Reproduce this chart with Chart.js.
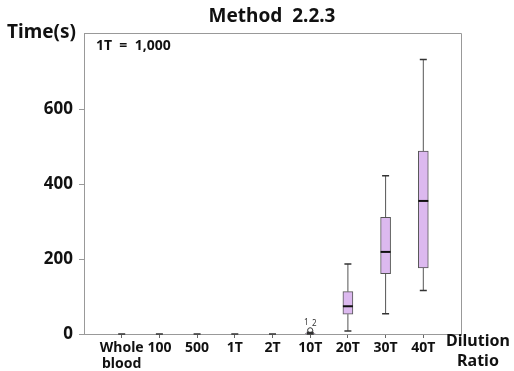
<!DOCTYPE html>
<html>
<head>
<meta charset="utf-8">
<script src="https://cdn.jsdelivr.net/npm/chart.js@4"></script>
<style>
  html, body { margin: 0; padding: 0; background: #fff; }
  #wrap { width: 514px; height: 371px; }
</style>
</head>
<body>
<div id="wrap"><canvas id="boxChart" width="514" height="371"></canvas></div>
<script>
// dilution ratios (x positions 1..9)
const labels = [['Whole', 'blood'], '100', '500', '1T', '2T', '10T', '20T', '30T', '40T'];
// box plot values (seconds)
const whiskerLow  = [0, 0, 0, 0, 0, 0, 8, 54, 116];
const q1          = [0, 0, 0, 0, 0, 0, 53, 161, 176];
const median      = [0, 0, 0, 0, 0, 1, 74, 219, 355];
const q3          = [0, 0, 0, 0, 0, 2, 113, 311, 488];
const whiskerHigh = [0, 0, 0, 0, 0, 4, 187, 422, 732];
// outliers at 10T
const outlierPos = [6, 6];
const outlierVal = [9, 10];
const outlierIds = ['1', '2'];
const yTicks = [0, 200, 400, 600];

const FONT = '"Noto Sans", "Open Sans", sans-serif';

const boxData = labels.map((l, i) => ({x: i + 1, y: [q1[i], q3[i]]}));
const outlierData = outlierPos.map((p, i) => ({x: p, y: outlierVal[i]}));

const boxPlugin = {
  id: 'boxExtras',
  afterDatasetsDraw(chart) {
    const ctx = chart.ctx;
    const xs = chart.scales.x, ys = chart.scales.y;
    ctx.save();
    labels.forEach((l, i) => {
      const cx = xs.getPixelForValue(i + 1);
      const yLo = ys.getPixelForValue(whiskerLow[i]);
      const yHi = ys.getPixelForValue(whiskerHigh[i]);
      const yQ1 = ys.getPixelForValue(q1[i]);
      const yQ3 = ys.getPixelForValue(q3[i]);
      ctx.strokeStyle = '#555';
      ctx.lineWidth = 1;
      ctx.beginPath();
      ctx.moveTo(cx, yQ3); ctx.lineTo(cx, yHi);
      ctx.moveTo(cx, yQ1); ctx.lineTo(cx, yLo);
      ctx.stroke();
      ctx.strokeStyle = '#333';
      ctx.lineWidth = 1.5;
      ctx.beginPath();
      ctx.moveTo(cx - 3.5, yHi); ctx.lineTo(cx + 3.5, yHi);
      ctx.moveTo(cx - 3.5, yLo); ctx.lineTo(cx + 3.5, yLo);
      ctx.stroke();
      if (q3[i] - q1[i] > 5) {
        const ym = ys.getPixelForValue(median[i]);
        ctx.strokeStyle = '#111';
        ctx.lineWidth = 2;
        ctx.beginPath();
        ctx.moveTo(cx - 5, ym); ctx.lineTo(cx + 5, ym);
        ctx.stroke();
      }
    });
    // outlier ids
    ctx.fillStyle = '#333';
    ctx.font = '8px ' + FONT;
    ctx.textAlign = 'center';
    ctx.textBaseline = 'alphabetic';
    outlierPos.forEach((p, i) => {
      const px = xs.getPixelForValue(p) + (i == 0 ? -4 : 4);
      const py = ys.getPixelForValue(outlierVal[i]) - 4 + (i == 0 ? -2 : 0);
      ctx.fillText(outlierIds[i], px, py);
    });
    ctx.restore();
  },
  afterDraw(chart) {
    const ctx = chart.ctx;
    const a = chart.chartArea;
    ctx.save();
    // frame left / top / right
    ctx.strokeStyle = '#999';
    ctx.lineWidth = 1;
    ctx.beginPath();
    ctx.moveTo(a.left + 0.5, a.bottom); ctx.lineTo(a.left + 0.5, a.top + 0.5);
    ctx.lineTo(a.right + 0.5, a.top + 0.5); ctx.lineTo(a.right + 0.5, a.bottom);
    ctx.stroke();
    ctx.fillStyle = '#111';
    ctx.textBaseline = 'middle';
    ctx.textAlign = 'center';
    ctx.font = 'bold 19px ' + FONT;
    ctx.fillText('Method  2.2.3', 272, 17);
    ctx.textAlign = 'left';
    ctx.fillText('Time(s)', 7, 33);
    ctx.font = 'bold 14px ' + FONT;
    ctx.fillText('1T  =  1,000', 96, 46);
    ctx.textAlign = 'center';
    ctx.font = 'bold 16px ' + FONT;
    ctx.fillText('Dilution', 478, 341);
    ctx.fillText('Ratio', 478, 361);
    ctx.restore();
  }
};

new Chart(document.getElementById('boxChart'), {
  type: 'bar',
  data: {
    datasets: [{
      label: 'box',
      data: boxData,
      backgroundColor: '#dcb9ef',
      borderColor: '#555',
      borderWidth: 1,
      borderSkipped: false,
      barThickness: 10,
      order: 2
    }, {
      type: 'scatter',
      label: 'outliers',
      data: outlierData,
      pointRadius: 2.5,
      pointBackgroundColor: '#fff',
      pointBorderColor: '#444',
      pointBorderWidth: 1,
      order: 1
    }]
  },
  options: {
    responsive: false,
    animation: false,
    layout: { padding: { top: 33, right: 53, left: 0, bottom: 0 } },
    plugins: { legend: { display: false }, tooltip: { enabled: false }, title: { display: false } },
    scales: {
      x: {
        type: 'linear',
        min: 0,
        max: 10,
        offset: false,
        afterBuildTicks(scale) { scale.ticks = labels.map((l, i) => ({value: i + 1})); },
        afterFit(scale) {
          scale.height = 37;
          scale.paddingLeft = 0;
          scale.paddingRight = 0;
        },
        ticks: {
          autoSkip: false,
          maxRotation: 0,
          padding: 2,
          color: '#111',
          font: { family: FONT, size: 14, weight: 'bold', lineHeight: 1.15 },
          callback: (v) => labels[v - 1]
        },
        grid: { drawOnChartArea: false, tickLength: 4, color: '#666', offset: false },
        border: { color: '#999', width: 1 }
      },
      y: {
        min: 0,
        max: 803,
        afterBuildTicks(scale) { scale.ticks = yTicks.map(v => ({value: v})); },
        afterFit(scale) {
          scale.width = 84;
          scale.paddingTop = 0;
          scale.paddingBottom = 0;
        },
        ticks: {
          padding: 6,
          color: '#111',
          font: { family: FONT, size: 17, weight: 'bold' }
        },
        grid: { drawOnChartArea: false, tickLength: 5, color: '#999' },
        border: { color: '#999', width: 1 }
      }
    }
  },
  plugins: [boxPlugin]
});
</script>
</body>
</html>
